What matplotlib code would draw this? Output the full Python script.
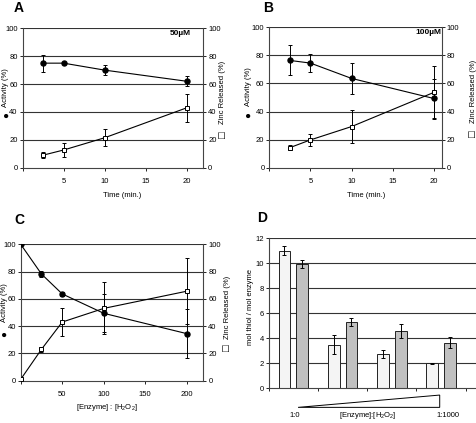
import matplotlib
matplotlib.use('Agg')
import numpy as np
import matplotlib.pyplot as plt
from matplotlib.patches import Polygon

plt.rcParams['font.family'] = ['Liberation Sans', 'DejaVu Sans']
plt.rcParams['mathtext.fontset'] = 'custom'
plt.rcParams['mathtext.rm'] = 'Liberation Sans'
plt.rcParams['mathtext.default'] = 'regular'

# panel A, 50uM
time_a = [2.5, 5, 10, 20]
act_a = [75, 75, 70, 62]
act_a_err = [6, 0.5, 3.5, 3.6]
zinc_a = [9, 12.7, 21.5, 43]
zinc_a_err = [2, 5, 6, 10]

# panel B, 100uM
time_b = [2.5, 5, 10, 20]
act_b = [76.4, 74.5, 63.6, 49.3]
act_b_err = [10.7, 6.3, 11, 14]
zinc_b = [14.3, 19.8, 29.3, 53.6]
zinc_b_err = [2, 4.4, 12, 19]

# panel C, enzyme : H2O2 ratio
ratio_c = [0, 25, 50, 100, 200]
act_c = [100, 78.2, 63.6, 49.4, 34.5]
act_c_err = [0, 2, 1.5, 14, 18]
zinc_c = [1, 23, 43, 53, 65.6]
zinc_c_err = [0, 2, 10, 19, 24]

# panel D, mol thiol / mol enzyme
groups_d = [0, 1, 2, 3]
thiol_white = [11.0, 3.5, 2.75, 2.0]
thiol_white_err = [0.35, 0.75, 0.35, 0.03]
thiol_gray = [9.95, 5.28, 4.6, 3.65]
thiol_gray_err = [0.3, 0.33, 0.57, 0.44]

FS = 5.5
GRID = '#333333'

fig = plt.figure(figsize=(4.77, 4.23), dpi=100)


def line_panel(rect, x, act, act_err, zinc, zinc_err, xlim, xticks, xlabel,
               lab_left, lab_right, xlab_x, note=None, dot_y=0.375):
    ax = fig.add_axes(rect)
    for y in range(20, 101, 20):
        ax.axhline(y, color=GRID, lw=0.8, zorder=0)
    ax.errorbar(x, act, yerr=act_err, color='black', lw=0.8, elinewidth=0.7,
                capsize=1.5, capthick=0.7, marker='o', ms=3.6, mfc='black',
                mec='black', zorder=3)
    ax.errorbar(x, zinc, yerr=zinc_err, color='black', lw=0.8, elinewidth=0.7,
                capsize=1.5, capthick=0.7, marker='s', ms=3.2, mfc='white',
                mec='black', mew=0.7, zorder=3)
    ax.set_xlim(xlim)
    ax.set_ylim(0, 100)
    ax.set_xticks(xticks)
    ax.set_xticklabels([''] + [str(t) for t in xticks[1:]])
    ax.set_yticks(range(0, 101, 20))
    ax.spines['top'].set_visible(False)
    for s in ['left', 'right', 'bottom']:
        ax.spines[s].set_color('#444444')
        ax.spines[s].set_linewidth(0.8)
    ax.tick_params(axis='y', direction='out', length=2.5, width=0.6,
                   labelsize=FS, pad=1.0, right=True, labelright=True)
    ax.tick_params(axis='x', direction='out', length=2.5, width=0.6,
                   labelsize=FS, pad=5)
    ax.text(xlab_x, -0.2, xlabel, transform=ax.transAxes, ha='center',
            va='center', fontsize=FS)
    # side labels with their series symbol underneath
    ax.text(lab_left, 0.575, 'Activity (%)', transform=ax.transAxes,
            rotation=90, ha='center', va='center', fontsize=FS)
    ax.text(lab_left, dot_y, '\u25cf', transform=ax.transAxes,
            rotation=90, ha='center', va='center', fontsize=7)
    ax.text(lab_right, 0.54, 'Zinc Released (%)', transform=ax.transAxes,
            rotation=90, ha='center', va='center', fontsize=FS)
    ax.text(lab_right, 0.24, '\u25a1', transform=ax.transAxes,
            rotation=90, ha='center', va='center', fontsize=8)
    if note:
        ax.text(note[1], 0.965, note[0], transform=ax.transAxes, ha='center',
                va='center', fontsize=FS + 0.5, fontweight='bold')
    return ax


line_panel([0.0472, 0.6035, 0.379, 0.3296], time_a, act_a, act_a_err,
           zinc_a, zinc_a_err, (0, 22), [0, 5, 10, 15, 20], 'Time (min.)',
           -0.095, 1.107, 0.55, note=('50\u00b5M', 0.87))
line_panel([0.5646, 0.6035, 0.362, 0.332], time_b, act_b, act_b_err,
           zinc_b, zinc_b_err, (0, 21), [0, 5, 10, 15, 20], 'Time (min.)',
           -0.122, 1.18, 0.56, note=('100\u00b5M', 0.92))
line_panel([0.0434, 0.1, 0.383, 0.3225], ratio_c, act_c, act_c_err,
           zinc_c, zinc_c_err, (0, 220), [0, 50, 100, 150, 200],
           '[Enzyme] : [H$_2$O$_2$]', -0.09, 1.13, 0.47, dot_y=0.34)

# panel D
axd = fig.add_axes([0.5633, 0.082, 0.4367, 0.3546])
for y in range(2, 13, 2):
    axd.axhline(y, color=GRID, lw=0.8, zorder=0)
gd = np.array(groups_d)
axd.bar(gd - 0.18, thiol_white, width=0.24, color='#f4f4f4', edgecolor='#222222',
        linewidth=0.7, yerr=thiol_white_err, capsize=1.5,
        error_kw=dict(elinewidth=0.7, capthick=0.7), zorder=2)
axd.bar(gd + 0.18, thiol_gray, width=0.24, color='#c0c0c0', edgecolor='#222222',
        linewidth=0.7, yerr=thiol_gray_err, capsize=1.5,
        error_kw=dict(elinewidth=0.7, capthick=0.7), zorder=2)
axd.set_xlim(-0.5, 3.73)
axd.set_ylim(0, 12)
axd.set_yticks(range(0, 13, 2))
axd.set_xticks([-0.5, 0.5, 1.5, 2.5, 3.5])
axd.set_xticklabels([])
for s in ['top', 'right']:
    axd.spines[s].set_visible(False)
for s in ['left', 'bottom']:
    axd.spines[s].set_color('#444444')
    axd.spines[s].set_linewidth(0.8)
axd.tick_params(direction='out', length=2.5, width=0.6, labelsize=FS, pad=1)
axd.text(-0.085, 0.54, 'mol thiol / mol enzyme', transform=axd.transAxes,
         rotation=90, ha='center', va='center', fontsize=FS)
wedge = Polygon([[0.141, -0.127], [0.821, -0.045], [0.821, -0.127]],
                closed=True, fill=False, edgecolor='black', lw=0.7,
                transform=axd.transAxes, clip_on=False)
axd.add_patch(wedge)
axd.text(0.125, -0.184, '1:0', transform=axd.transAxes, ha='center',
         va='center', fontsize=FS)
axd.text(0.477, -0.184, '[Enzyme]:[H$_2$O$_2$]', transform=axd.transAxes,
         ha='center', va='center', fontsize=FS)
axd.text(0.861, -0.184, '1:1000', transform=axd.transAxes, ha='center',
         va='center', fontsize=FS)

# panel letters
for letter, px, py in [('A', 0.040, 0.982), ('B', 0.562, 0.982),
                       ('C', 0.040, 0.481), ('D', 0.549, 0.485)]:
    fig.text(px, py, letter, ha='center', va='center', fontsize=10,
             fontweight='bold')

fig.savefig('out.png', dpi=100)
